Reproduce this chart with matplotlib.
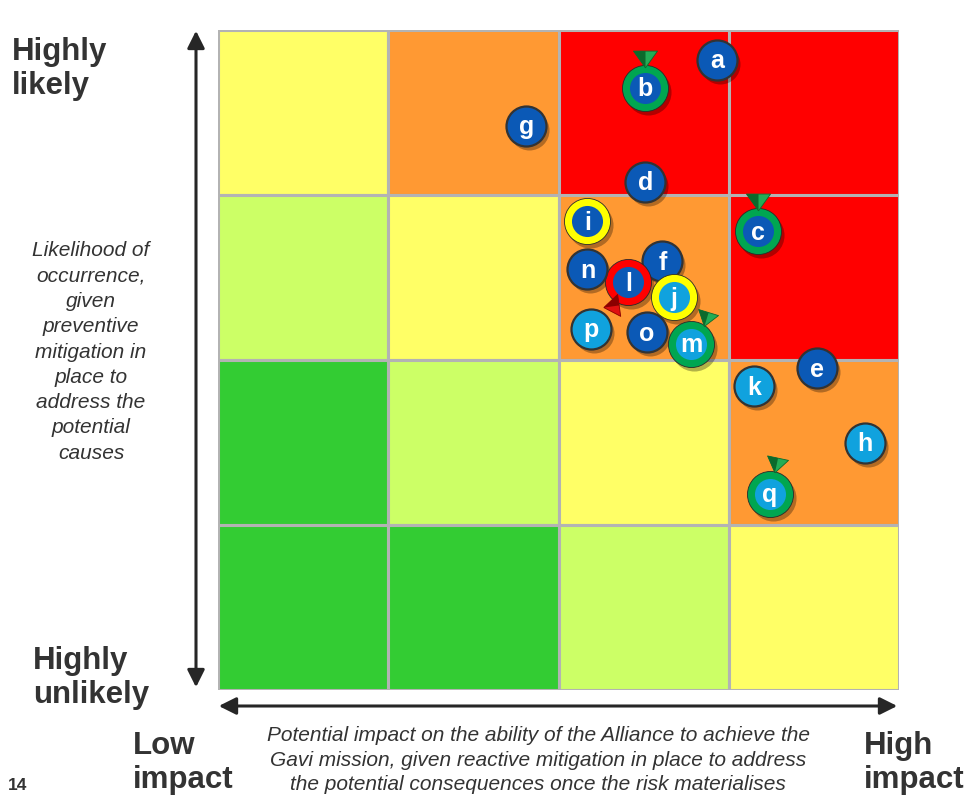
import numpy as np
import matplotlib
matplotlib.use("Agg")
import matplotlib.pyplot as plt
from matplotlib.patches import Rectangle, FancyArrowPatch
from matplotlib import transforms

plt.rcParams['font.family'] = ['Liberation Sans', 'DejaVu Sans']

# Heat map colours, top row first (likelihood high -> low), impact low -> high
grid_colors = [
    ['#ffff66', '#ff9933', '#ff0000', '#ff0000'],
    ['#ccff66', '#ffff66', '#ff9933', '#ff0000'],
    ['#33cc33', '#ccff66', '#ffff66', '#ff9933'],
    ['#33cc33', '#33cc33', '#ccff66', '#ffff66'],
]

# Risks: impact (0-4) and likelihood (0-4)
labels = ['a', 'b', 'c', 'd', 'e', 'f', 'g', 'h', 'i', 'j', 'k', 'l', 'm', 'n', 'o', 'p', 'q']
impact = [2.93, 2.51, 3.17, 2.51, 3.52, 2.61, 1.81, 3.80, 2.17, 2.68, 3.15, 2.41, 2.78, 2.17, 2.52, 2.19, 3.24]
likelihood = [3.82, 3.65, 2.78, 3.08, 1.95, 2.60, 3.42, 1.50, 2.84, 2.38, 1.84, 2.47, 2.10, 2.55, 2.17, 2.19, 1.19]
fill_kind = ['dark', 'dark', 'dark', 'dark', 'dark', 'dark', 'dark', 'light', 'dark', 'light',
             'light', 'dark', 'light', 'dark', 'dark', 'light', 'light']
ring = [None, 'green', 'green', None, None, None, None, None, 'yellow', 'yellow',
        None, 'red', 'green', None, None, None, 'green']
# trend arrows: label -> (position angle on ring, pointing direction), degrees
trend = {'b': (90, -90), 'c': (90, -90), 'm': (59, -107), 'q': (77, -102), 'l': (233, 188)}

fill_colors = {'dark': '#0b59b6', 'light': '#10a2de'}
ring_colors = {'green': '#00a651', 'yellow': '#ffff00', 'red': '#ff0000'}
arrow_colors = {'green': ('#23ad55', '#0c6a2c'), 'red': ('#e01010', '#8a0000')}

W, H = 971, 795
fig = plt.figure(figsize=(W / 100, H / 100), dpi=100)
ax = fig.add_axes([218 / W, (H - 690) / H, 681 / W, 660 / H])
ax.set_xlim(0, 4)
ax.set_ylim(0, 4)
ax.axis('off')

for r, row in enumerate(grid_colors):
    for c, col in enumerate(row):
        ax.add_patch(Rectangle((c, 3 - r), 1, 1, facecolor=col, edgecolor='#b3b3b3',
                               linewidth=2.2, zorder=1))

shadow = transforms.offset_copy(ax.transData, fig=fig, x=3, y=-4, units='dots')


def tri_marker(direction, half=False):
    # wide cone-like triangle pointing along +x, rotated to direction
    full = np.array([[0.35, 0.0], [-0.35, 0.5], [-0.35, -0.5], [0.35, 0.0]])
    if half:
        # lower half, padded with the full outline's extent so it scales the same
        v = np.array([[0.35, 0.0], [-0.35, 0.0], [-0.35, -0.5], [0.35, 0.0],
                      [-0.35, 0.5], [-0.35, 0.5], [0.35, 0.0]])
    else:
        v = full
    a = np.deg2rad(direction)
    rot = np.array([[np.cos(a), -np.sin(a)], [np.sin(a), np.cos(a)]])
    return v @ rot.T


for i, lab in enumerate(labels):
    x, y = impact[i], likelihood[i]
    fc = fill_colors[fill_kind[i]]
    if ring[i]:
        ax.scatter([x], [y], s=1100, color='#000000', alpha=0.3, transform=shadow,
                   zorder=2, linewidths=0)
        ax.scatter([x], [y], s=1100, color=ring_colors[ring[i]], edgecolors='#2a2a2a',
                   linewidths=0.6, zorder=3)
        ax.scatter([x], [y], s=500, color=fc, linewidths=0, zorder=4)
    else:
        ax.scatter([x], [y], s=830, color='#000000', alpha=0.3, transform=shadow,
                   zorder=2, linewidths=0)
        ax.scatter([x], [y], s=830, color=fc, edgecolors='#333333', linewidths=1.6, zorder=3)
    ax.text(x, y - 0.01, lab, color='white', fontsize=18, fontweight='bold',
            ha='center', va='center', zorder=5)
    if lab in trend:
        pos, direction = trend[lab]
        off = transforms.offset_copy(ax.transData, fig=fig,
                                     x=29 * np.cos(np.deg2rad(pos)),
                                     y=29 * np.sin(np.deg2rad(pos)), units='dots')
        light, dark = arrow_colors['red' if ring[i] == 'red' else 'green']
        ax.scatter([x], [y], s=300, marker=tri_marker(direction), color=light,
                   edgecolors=dark, linewidths=0.6, transform=off, zorder=6)
        ax.scatter([x], [y], s=300, marker=tri_marker(direction, half=True), color=dark,
                   linewidths=0, transform=off, zorder=7)

# axis arrows
fig.add_artist(FancyArrowPatch((196, H - 28), (196, H - 690), transform=None,
                               arrowstyle='<|-|>', mutation_scale=26, linewidth=2.2,
                               color='#262626'))
fig.add_artist(FancyArrowPatch((216, H - 706), (900, H - 706), transform=None,
                               arrowstyle='<|-|>', mutation_scale=26, linewidth=2.2,
                               color='#262626'))


def ftext(px, py, s, **kw):
    fig.text(px / W, 1 - py / H, s, **kw)


bold = dict(fontsize=22.5, fontweight='bold', color='#333333', ha='left', va='top',
            linespacing=1.18)
ftext(12, 37, 'Highly\nlikely', **bold)
ftext(33, 646, 'Highly\nunlikely', **bold)
ftext(133, 731, 'Low\nimpact', **bold)
ftext(864, 731, 'High\nimpact', **bold)

ital = dict(fontsize=15, style='italic', color='#333333', ha='center', va='center')
ftext(91, 352, 'Likelihood of\noccurrence,\ngiven\npreventive\nmitigation in\nplace to\naddress the\npotential\ncauses',
      linespacing=1.42, **ital)
ftext(538, 760, 'Potential impact on the ability of the Alliance to achieve the\n'
      'Gavi mission, given reactive mitigation in place to address\n'
      'the potential consequences once the risk materialises',
      linespacing=1.36, **ital)
ftext(8, 786, '14', fontsize=12.5, fontweight='bold', color='#333333', ha='left', va='center')

fig.savefig('out.png', dpi=100)
